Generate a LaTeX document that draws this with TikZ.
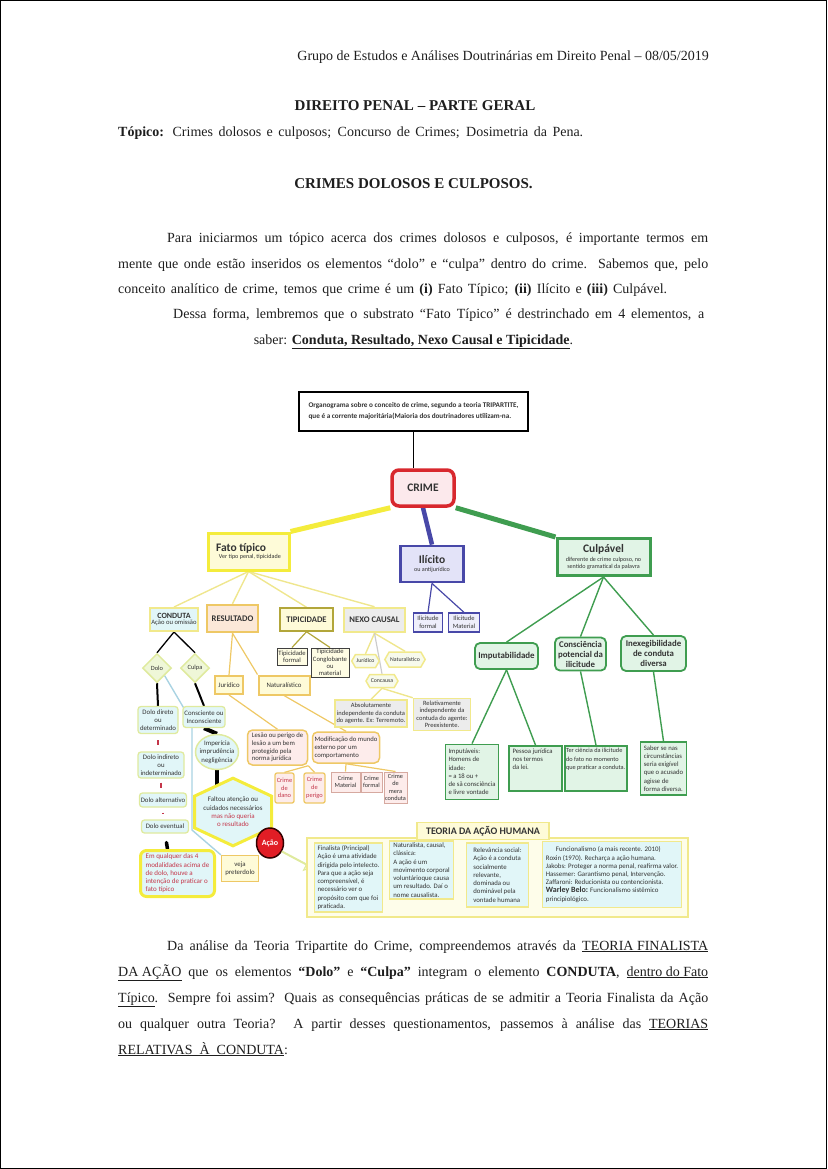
\documentclass[tikz,border=0pt]{standalone}
\usepackage{fontspec}
\setmainfont{Liberation Serif}
\newfontfamily\dg{Carlito}
\usetikzlibrary{shapes.geometric,shapes.symbols,shapes.arrows}
\pgfdeclarelayer{bg}
\pgfsetlayers{bg,main}
\definecolor{dtx}{HTML}{333333}
\definecolor{rtx}{HTML}{C4364A}
\definecolor{yel}{HTML}{F4EC3C}
\definecolor{yelfill}{HTML}{FEFBD8}
\definecolor{ylight}{HTML}{EFE68E}
\definecolor{yborder}{HTML}{F1E98C}
\definecolor{blu}{HTML}{4848A8}
\definecolor{blufill}{HTML}{E3E3F8}
\definecolor{grn}{HTML}{3F9D50}
\definecolor{grnfill}{HTML}{E1F4E6}
\definecolor{crimered}{HTML}{D8282E}
\definecolor{crimefill}{HTML}{FCE9EC}
\definecolor{cyanfill}{HTML}{E1F6F8}
\definecolor{pinkfill}{HTML}{FDECEB}
\definecolor{orng}{HTML}{EEC865}
\definecolor{greyfill}{HTML}{ECECEC}
\definecolor{lblue}{HTML}{A9D3E2}
\definecolor{lgreenb}{HTML}{DFEA9E}
\definecolor{olive}{HTML}{B2A63A}
\definecolor{bodytx}{HTML}{1E1E1E}
\definecolor{acaored}{HTML}{E11D25}
\definecolor{arrfill}{HTML}{EEF6D0}
\definecolor{diafill}{HTML}{EFF7D8}
\definecolor{resfill}{HTML}{FBE8D8}
\definecolor{hexfill}{HTML}{F7FAEC}
\definecolor{teofill}{HTML}{FEFDEA}
\definecolor{crb}{HTML}{D6A9A0}
\newcommand{\smt}[1]{{\fontsize{6.1}{7}\selectfont #1}}
\tikzset{
 body/.style={anchor=base west, inner sep=0pt, text=bodytx, font=\fontsize{14}{17}\selectfont},
 bodyc/.style={anchor=base, inner sep=0pt, text=bodytx, font=\fontsize{14}{17}\selectfont},
 dn/.style={inner sep=1pt, align=center, text=dtx, font=\dg\fontsize{6.8}{8.3}\selectfont},
 ybox/.style={dn, draw=yel, line width=3pt, fill=yelfill},
 bbox/.style={dn, draw=blu, line width=1.2pt, fill=blufill!60},
 gbox/.style={dn, draw=grn, line width=1.8pt, fill=grnfill},
 cbox/.style={dn, rounded corners=3pt, draw=lgreenb, line width=1.3pt, fill=cyanfill, inner sep=0.5pt},
 dia/.style={dn, diamond, draw=lgreenb, line width=1.5pt, fill=diafill, minimum width=29pt, minimum height=29pt, inner sep=0pt, font=\dg\fontsize{6.4}{7}\selectfont},
 rbox/.style={dn, draw=orng, line width=2pt, fill=yelfill},
 pbox/.style={dn, rounded corners=5pt, draw=orng, line width=1.5pt, fill=pinkfill, align=left},
 crbox/.style={dn, rounded corners=2pt, draw=orng, line width=1.3pt, fill=pinkfill, text=rtx, font=\dg\fontsize{6.4}{7.8}\selectfont},
 cmbox/.style={dn, draw=crb, line width=1pt, fill=pinkfill, font=\dg\fontsize{6.3}{7.5}\selectfont},
 tbox/.style={dn, draw=black!75, line width=1pt, fill=yelfill!70, font=\dg\fontsize{6.6}{7.3}\selectfont},
 hx/.style={dn, signal, signal to=east and west, signal pointer angle=120, draw=yborder, line width=1.5pt, fill=hexfill, inner sep=1pt, font=\dg\fontsize{5.8}{6.5}\selectfont},
 nbox/.style={dn, draw=yborder, line width=1.5pt, fill=greyfill, font=\dg\fontsize{6.5}{7.5}\selectfont},
 teob/.style={dn, draw=yborder, line width=1.5pt, fill=cyanfill, align=left, font=\dg\fontsize{6.8}{8.3}\selectfont},
 capl/.style={font=\dg\bfseries\fontsize{8.6}{9}\selectfont},
 yline/.style={draw=ylight, line width=1.4pt},
 rline/.style={draw=orng, line width=1.2pt},
 gline/.style={draw=grn, line width=1.4pt},
 bline/.style={draw=blu, line width=1.2pt},
 kline/.style={draw=black, line width=1.3pt},
}
\begin{document}
\begin{tikzpicture}[x=1pt,y=-1pt]
\useasboundingbox (0,0) rectangle (827,1169);
\draw[black, line width=1pt] (0.5,0.5) rectangle (826.5,1168.5);

% ---------- page text ----------
\node[anchor=base east, inner sep=0pt, text=bodytx, font=\fontsize{14}{17}\selectfont] (hdr) at (709,61) {Grupo de Estudos e Análises Doutrinárias em Direito Penal – 08/05/2019};
\node[bodyc, font=\fontsize{15}{17}\selectfont] (tit1) at (415,111) {\textbf{DIREITO PENAL – PARTE GERAL}};
\node[body] (topic) at (118,137) {\makebox[465pt][s]{\textbf{Tópico:} Crimes dolosos e culposos; Concurso de Crimes; Dosimetria da Pena.}};
\node[bodyc, font=\fontsize{15}{17}\selectfont] (tit2) at (413.5,189) {\textbf{CRIMES DOLOSOS E CULPOSOS.}};
\node[body] (p1) at (167,242) {\makebox[541pt][s]{Para iniciarmos um tópico acerca dos crimes dolosos e culposos, é importante termos em}};
\node[body] (p2) at (118,268) {\makebox[590pt][s]{mente que onde estão inseridos os elementos “dolo” e “culpa” dentro do crime. Sabemos que, pelo}};
\node[body] (p3) at (118,293) {\makebox[549pt][s]{conceito analítico de crime, temos que crime é um \textbf{(i)} Fato Típico; \textbf{(ii)} Ilícito e \textbf{(iii)} Culpável.}};
\node[body] (p4) at (173,318) {\makebox[531pt][s]{Dessa forma, lembremos que o substrato “Fato Típico” é destrinchado em 4 elementos, a}};
\node[bodyc] (p5) at (413.5,344) {saber: \underline{\textbf{Conduta, Resultado, Nexo Causal e Tipicidade}}.};

\node[body] (q1) at (167,950) {\makebox[541pt][s]{Da análise da Teoria Tripartite do Crime, compreendemos através da \underline{TEORIA FINALISTA}}};
\node[body] (q2) at (118,976) {\makebox[590pt][s]{\underline{DA AÇÃO} que os elementos \textbf{“Dolo”} e \textbf{“Culpa”} integram o elemento \textbf{CONDUTA}, \underline{dentro do Fato}}};
\node[body] (q3) at (118,1002) {\makebox[590pt][s]{\underline{Típico}. Sempre foi assim? Quais as consequências práticas de se admitir a Teoria Finalista da Ação}};
\node[body] (q4) at (118,1028) {\makebox[590pt][s]{ou qualquer outra Teoria? A partir desses questionamentos, passemos à análise das \underline{TEORIAS}}};
\node[body] (q5) at (118,1054) {\underline{RELATIVAS\ \ À\ \ CONDUTA}:};

% ---------- diagram nodes ----------
\node[dn, draw=black, line width=2.2pt, fill=white, minimum width=229pt, minimum height=39pt, align=left, font=\dg\bfseries\fontsize{7.2}{11}\selectfont] (top) at (413.5,411.5) {Organograma sobre o conceito de crime, segundo a teoria TRIPARTITE,\\que é a corrente majoritária(Maioria dos doutrinadores utilizam-na.};
\node[dn, draw=crimered, line width=3.5pt, rounded corners=7pt, fill=crimefill, minimum width=62pt, minimum height=36pt, font=\dg\bfseries\fontsize{11.5}{13}\selectfont] (crime) at (423,488) {CRIME};

\node[ybox, minimum width=81pt, minimum height=37pt, align=left] (fato) at (248.5,551.5) {{\fontsize{11.5}{13}\selectfont\bfseries Fato típico}\\[-1pt]\smt{\ \ Ver tipo penal, tipicidade}};
\node[dn, draw=blu, line width=2.8pt, fill=blufill, minimum width=63pt, minimum height=36pt] (ilicito) at (432,564) {{\fontsize{11.5}{13}\selectfont\bfseries Ilícito}\\\smt{ou antijurídico}};
\node[dn, draw=grn, line width=3pt, fill=grnfill, minimum width=93pt, minimum height=37pt] (culp) at (603.5,557) {{\fontsize{11.5}{13}\selectfont\bfseries Culpável}\\[1pt]\smt{diferente de crime culposo, no}\\[-1pt]\smt{sentido gramatical da palavra}};

% Fato tipico children
\node[dn, draw=yborder, line width=2pt, fill=cyanfill, minimum width=48pt, minimum height=23pt, inner sep=0.5pt] (conduta) at (174,619.5) {{\dg\bfseries\fontsize{8}{8}\selectfont CONDUTA}\\[-1.5pt]{\fontsize{6.6}{6.6}\selectfont Ação ou omissão}};
\node[dn, capl, draw=orng, line width=2.5pt, fill=resfill, minimum width=51pt, minimum height=27pt] (resultado) at (232.5,618.5) {RESULTADO};
\node[dn, capl, draw=olive, line width=1.5pt, fill=yelfill, minimum width=53pt, minimum height=23pt] (tipic) at (306.5,619.5) {TIPICIDADE};
\node[dn, capl, draw=yborder, line width=2.5pt, fill=greyfill, minimum width=61pt, minimum height=24pt] (nexo) at (374.5,620) {NEXO CAUSAL};

% Ilicito children
\node[bbox, minimum width=29pt, minimum height=19pt, inner sep=0.3pt, font=\dg\fontsize{6.5}{7.6}\selectfont] (ilf) at (428,622.5) {Ilicitude\\formal};
\node[bbox, minimum width=31pt, minimum height=19pt, inner sep=0.3pt, font=\dg\fontsize{6.5}{7.6}\selectfont] (ilm) at (464,622.5) {Ilicitude\\Material};

% Culpavel children
\node[gbox, rounded corners=5pt, minimum width=63pt, minimum height=26pt, font=\dg\bfseries\fontsize{8.9}{10}\selectfont] (imput) at (506.5,656) {Imputabilidade};
\node[gbox, rounded corners=5pt, minimum width=51pt, minimum height=33pt, inner sep=0.5pt, font=\dg\bfseries\fontsize{8.8}{10}\selectfont] (consc) at (580.5,654) {Consciência\\potencial da\\ilicitude};
\node[gbox, rounded corners=5pt, minimum width=65pt, minimum height=35pt, inner sep=0.5pt, font=\dg\bfseries\fontsize{8.8}{10}\selectfont] (inex) at (653.5,653.5) {Inexegibilidade\\de conduta\\diversa};
\node[gbox, minimum width=53pt, minimum height=55pt, align=left, font=\dg\fontsize{6.7}{8.2}\selectfont] (impv) at (472,772) {Imputáveis:\\Homens de\\idade:\\= a 18 ou +\\de sã consciência\\e livre vontade};
\node[gbox, minimum width=53pt, minimum height=45pt, inner sep=0pt, font=\dg\fontsize{6.7}{8.2}\selectfont] (pj) at (535.5,768.5) {\parbox[c][40pt][t]{46pt}{\raggedright Pessoa jurídica\\nos termos\\da lei.}};
\node[gbox, minimum width=62pt, minimum height=45pt, inner sep=0pt, font=\dg\fontsize{6.3}{8.2}\selectfont] (ter) at (596,768.5) {\parbox[c][40pt][t]{60pt}{\raggedright Ter ciência da ilicitude\\do fato no momento\\que praticar a conduta.}};
\node[gbox, minimum width=46pt, minimum height=53pt, align=left, inner sep=0.5pt, font=\dg\fontsize{6.7}{8.2}\selectfont] (saber) at (663.5,768.5) {Saber se nas\\circunstâncias\\seria exigível\\que o acusado\\agisse de\\forma diversa.};

% Conduta subtree
\node[dia] (dolo) at (157,668) {Dolo};
\node[dia] (culpa) at (195,668) {Culpa};
\node[cbox, minimum width=40pt, minimum height=27pt] (dd) at (158,720) {Dolo direto\\ou\\determinado};
\node[cbox, minimum width=46pt, minimum height=26pt] (di) at (161,765) {Dolo indireto\\ou\\indeterminado};
\node[cbox, minimum width=47pt, minimum height=14pt] (da) at (163,800) {Dolo alternativo};
\node[cbox, minimum width=47pt, minimum height=13pt] (de) at (165,826.5) {Dolo eventual};
\node[dn, rounded corners=6pt, draw=yel, line width=3pt, fill=cyanfill, text=rtx, align=left, minimum width=74pt, minimum height=46pt, font=\dg\fontsize{7}{8.3}\selectfont] (em) at (177.5,873.5) {Em qualquer das 4\\modalidades acima de\\de dolo, houve a\\intenção de praticar o\\fato típico};
\node[cbox, minimum width=42pt, minimum height=21pt] (cons) at (204,717) {Consciente ou\\Inconsciente};
\node[dn, ellipse, draw=lgreenb, line width=1.5pt, fill=cyanfill, minimum width=43pt, minimum height=35pt, inner sep=-3pt] (imp) at (217,752) {Imperícia\\imprudência\\negligência};
\node[dn, signal, signal to=north and south, signal pointer angle=130, draw=yel, line width=3pt, fill=cyanfill, minimum width=77pt, minimum height=52pt, inner sep=1pt, font=\dg\fontsize{6.9}{8.3}\selectfont] (falt) at (233,812) {Faltou atenção ou\\cuidados necessários\\\textcolor{rtx}{mas não queria}\\\textcolor{rtx}{o resultado}};
\node[dn, draw=orng, line width=1.3pt, fill=yelfill, minimum width=37pt, minimum height=26pt, inner sep=0.5pt] (veja) at (240,868.5) {veja\\preterdolo};
\node[dn, ellipse, draw=black!80!red, line width=1.5pt, fill=acaored, text=white, minimum width=27pt, minimum height=30pt, inner sep=0pt, font=\dg\bfseries\fontsize{8}{8}\selectfont] (acao) at (270,843) {Ação};
\node[single arrow, draw=lgreenb, line width=1pt, fill=arrfill, minimum height=34pt, minimum width=12pt, single arrow head extend=6pt, inner sep=0pt, rotate=-28] (arr) at (297,859.5) {};

% Resultado subtree
\node[rbox, minimum width=28pt, minimum height=18pt, inner sep=0.5pt] (rj) at (229,685) {Jurídico};
\node[rbox, minimum width=51pt, minimum height=19pt] (rn) at (284,685) {Naturalístico};
\node[pbox, minimum width=60pt, minimum height=35pt, font=\dg\fontsize{6.7}{7.8}\selectfont] (lesao) at (277.5,747.5) {Lesão ou perigo de\\lesão a um bem\\protegido pela\\norma jurídica};
\node[pbox, minimum width=67pt, minimum height=31pt, font=\dg\fontsize{6.7}{8}\selectfont] (modif) at (346,747.5) {Modificação do mundo\\externo por um\\comportamento};
\node[crbox, minimum width=19pt, minimum height=30pt, inner sep=0.3pt] (cdano) at (284.5,788) {Crime\\de\\dano};
\node[crbox, minimum width=21pt, minimum height=30pt, inner sep=0.3pt] (cperigo) at (314.5,788) {Crime\\de\\perigo};
\node[cmbox, minimum width=29pt, minimum height=20pt, inner sep=0.3pt] (cmat) at (345.5,782) {Crime\\Material};
\node[cmbox, minimum width=21pt, minimum height=20pt, inner sep=0.3pt] (cform) at (371.5,782) {Crime\\formal};
\node[cmbox, minimum width=23pt, minimum height=31pt, inner sep=0.3pt] (cmera) at (395.5,787.5) {Crime\\de\\mera\\conduta};

% Tipicidade subtree
\node[tbox, minimum width=30pt, minimum height=17pt, inner sep=0.3pt] (tf) at (292,656.5) {Tipicidade\\formal};
\node[tbox, minimum width=38pt, minimum height=29pt, inner sep=0.3pt] (tc) at (330,662.5) {Tipicidade\\Conglobante\\ou\\material};

% Nexo subtree
\node[hx, minimum width=26pt, minimum height=13pt] (nj) at (365.5,661) {Jurídico};
\node[hx, minimum width=40pt, minimum height=15pt] (nn) at (405,659.5) {Naturalístico};
\node[hx, minimum width=31pt, minimum height=13pt] (conc) at (382,681) {Concausa};
\node[nbox, minimum width=72pt, minimum height=27pt, inner sep=0.5pt] (abs) at (371,713.5) {Absolutamente\\independente da conduta\\do agente. Ex: Terremoto.};
\node[nbox, minimum width=57pt, minimum height=32pt, inner sep=0.5pt] (rel) at (442,714.5) {Relativamente\\independente da\\contuda do agente:\\Preexistente.};

% Teoria
\node[dn, draw=yborder, line width=2pt, fill=teofill, minimum width=381pt, minimum height=79pt] (teobox) at (497.5,877.5) {};
\node[dn, draw=yborder, line width=1.5pt, fill=yelfill, minimum width=132pt, minimum height=17pt, font=\dg\bfseries\fontsize{10}{10}\selectfont] (teohdr) at (483,831) {TEORIA DA AÇÃO HUMANA};
\node[teob, minimum width=68pt, minimum height=69pt, inner sep=0.5pt] (fin) at (348.5,877.5) {Finalista (Principal)\\Ação é uma atividade\\dirigida pelo intelecto.\\Para que a ação seja\\compreensível, é\\necessário ver o\\propósito com que foi\\praticada.};
\node[teob, minimum width=64pt, minimum height=58pt, inner sep=0.5pt] (nat) at (421.5,870) {Naturalista, causal,\\clássica:\\A ação é um\\movimento corporal\\voluntárioque causa\\um resultado. Daí o\\nome causalista.};
\node[teob, minimum width=62pt, minimum height=64pt, inner sep=0.5pt] (relv) at (497.5,875) {Relevância social:\\Ação é a conduta\\socialmente\\relevante,\\dominada ou\\dominável pela\\vontade humana};
\node[teob, minimum width=139pt, minimum height=66pt, inner sep=0.5pt, font=\dg\fontsize{6.9}{8.2}\selectfont] (func) at (612,874.5) {\hspace*{10pt}Funcionalismo (a mais recente. 2010)\\Roxin (1970). Recharça a ação humana.\\Jakobs: Proteger a norma penal, reafirma valor.\\Hassemer: Garantismo penal, Intervenção.\\Zaffaroni: Reducionista ou contencionista.\\{\bfseries\fontsize{8}{8}\selectfont Warley Belo:} Funcionalismo sistêmico\\principiológico.};

% ---------- connectors ----------
\coordinate (bl1) at (192,722);
\coordinate (bl2) at (192,830);
\begin{pgfonlayer}{bg}
\draw[line width=1.8pt] (top.south) -- (top.south |- crime.north);
\draw[yel, line width=5pt] (crime.south west) -- (fato.north east);
\draw[blu, line width=4.5pt] (crime.south) -- (ilicito.north);
\draw[grn, line width=5pt] (crime.south east) -- (culp.north west);
\foreach \n in {conduta,resultado,tipic,nexo} \draw[yline] (fato.south) -- (\n.north);
\draw[bline] (ilicito.south) -- (ilf.north);
\draw[bline] (ilicito.south) -- (ilm.north);
\foreach \n in {imput,consc,inex} \draw[gline] (culp.south) -- (\n.north);
\draw[gline] (imput.south) -- (impv.north);
\draw[gline] (imput.south) -- (pj.north);
\draw[gline] (consc.south) -- (ter.north);
\draw[gline] (inex.south) -- (saber.north);
\draw[kline] (conduta.south) -- (dolo.north);
\draw[kline] (conduta.south) -- (culpa.north);
\draw[black, line width=2pt] (dolo.south) -- (dd.north);
\draw[black, line width=2pt] (culpa.south) -- (cons.north);
\draw[black, line width=4pt] (cons.south) -- (imp.north);
\draw[black, line width=3.5pt] (imp.south) -- (imp.south |- falt.center);
\draw[rtx, line width=1.6pt, shorten <=6pt, shorten >=6pt] (dd.south) -- (dd.south |- di.north);
\draw[rtx, line width=1.6pt, shorten <=4pt, shorten >=4pt] (di.south) -- (di.south |- da.north);
\draw[rtx, line width=1.6pt, shorten <=5pt, shorten >=5pt] (da.south) -- (da.south |- de.north);
\draw[black, line width=3.5pt, line cap=round, shorten <=9pt] (de.south) -- ([xshift=-10pt]em.north);
\draw[lblue, line width=1.4pt] (dolo.south east) -- (bl1) -- (bl2) -- (veja.north west);
\draw[rline] (resultado.south) -- (rj.north);
\draw[rline] (resultado.south) -- (rn.north west);
\draw[rline] (rj.south) -- (lesao.north);
\draw[rline] (rn.south) -- (modif.north);
\draw[rline] (lesao.south east) -- (cdano.north);
\draw[rline] (lesao.south east) -- (cperigo.north);
\draw[rline] (modif.south) -- (cmat.north);
\draw[rline] (modif.south) -- (cmera.north);
\draw[draw=olive, line width=1.2pt] (tipic.south) -- (tf.north);
\draw[draw=olive, line width=1.2pt] (tipic.south) -- (tc.north);
\draw[yline] (nexo.south) -- (nj.north);
\draw[yline] (nexo.south) -- (nn.north);
\draw[draw=black!20, line width=1.2pt] (nexo.south) -- (conc.north);
\draw[yline] (conc.south) -- (abs.north);
\draw[yline] (conc.south) -- (rel.north west);
\end{pgfonlayer}
\end{tikzpicture}
\end{document}
